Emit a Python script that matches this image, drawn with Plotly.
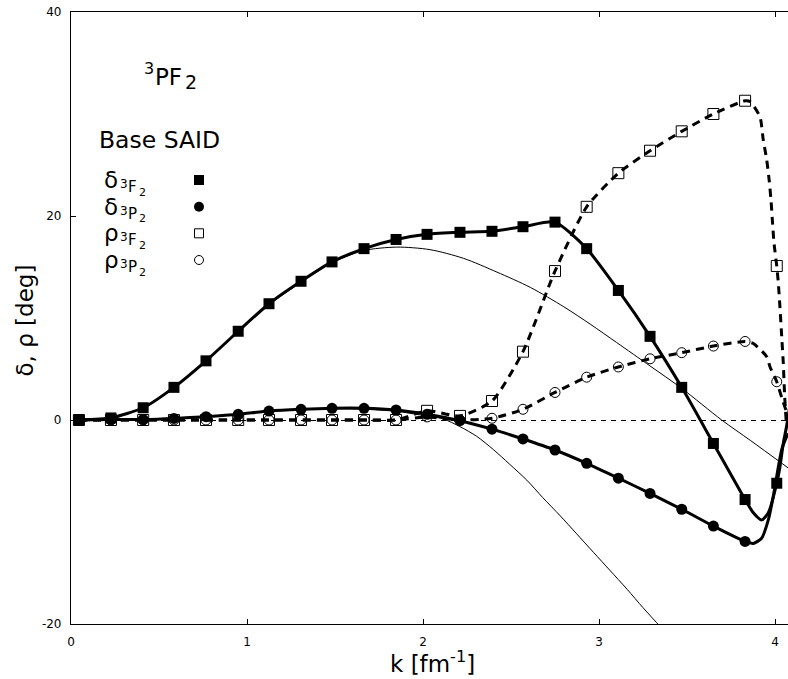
import plotly.graph_objects as go

# ---------------- data ----------------
k_marks = [0.045, 0.227, 0.41, 0.585, 0.767, 0.95, 1.125, 1.307, 1.483, 1.665, 1.847,
           2.023, 2.21, 2.392, 2.568, 2.75, 2.93, 3.11, 3.29, 3.47, 3.65, 3.83, 4.01]

delta_3F2 = [0.0, 0.2, 1.2, 3.2, 5.8, 8.7, 11.4, 13.6, 15.5, 16.8, 17.7,
             18.2, 18.4, 18.5, 18.95, 19.4, 16.8, 12.7, 8.2, 3.2, -2.3, -7.8, -6.2]
delta_3P2 = [0.0, 0.05, 0.05, 0.15, 0.33, 0.56, 0.88, 1.05, 1.15, 1.15, 0.98,
             0.56, -0.07, -0.9, -1.86, -2.94, -4.25, -5.7, -7.2, -8.75, -10.4, -11.9]
rho_3F2 = [0.0, 0.0, 0.0, 0.0, 0.0, 0.0, 0.0, 0.0, 0.0, 0.0, 0.0,
           0.9, 0.4, 1.86, 6.7, 14.6, 20.9, 24.2, 26.4, 28.3, 30.0, 31.3, 15.1]
rho_3P2 = [0.0, 0.0, 0.0, 0.0, 0.0, 0.0, 0.0, 0.0, 0.0, 0.0, 0.0,
           0.3, 0.0, 0.17, 1.05, 2.7, 4.2, 5.2, 6.0, 6.6, 7.25, 7.7, 3.75]

# curve tails beyond the last regular marker
tail_k_d3F2 = [3.877, 3.924, 3.962, 4.01, 4.028, 4.047, 4.066, 4.085]
tail_v_d3F2 = [-9.1, -9.8, -9.1, -6.2, -4.6, -2.3, -0.6, 1.5]
tail_k_d3P2 = [3.877, 3.924, 3.962, 3.99, 4.019, 4.038, 4.057, 4.075]
tail_v_d3P2 = [-12.1, -11.6, -9.8, -7.5, -4.6, -2.9, -2.0, -1.3]
tail_k_r3F2 = [3.86, 3.915, 3.933, 3.953, 3.967, 3.977, 3.985, 3.994, 4.01,
               4.019, 4.028, 4.038, 4.047, 4.055, 4.065]
tail_v_r3F2 = [31.2, 29.7, 27.5, 25.5, 23.5, 21.6, 19.6, 17.4, 15.1,
               13.4, 11.1, 8.2, 5.6, 2.3, -0.5]
tail_k_r3P2 = [3.877, 3.953, 3.972, 4.01, 4.04, 4.075]
tail_v_r3P2 = [7.5, 6.2, 5.2, 3.75, 2.1, 0.3]

# thin reference curves
thin1_k = [0.045, 0.227, 0.41, 0.585, 0.767, 0.95, 1.125, 1.307, 1.47, 1.661, 1.85,
           2.04, 2.23, 2.42, 2.61, 2.80, 2.95, 3.10, 3.29, 3.47, 3.697, 3.86, 4.075]
thin1_v = [0.0, 0.2, 1.2, 3.2, 5.8, 8.7, 11.3, 13.5, 15.3, 16.6, 16.95,
           16.7, 15.85, 14.5, 13.0, 11.1, 9.4, 7.6, 5.3, 3.1, 0.0, -2.0, -4.7]
thin2_k = [0.045, 0.41, 0.767, 0.95, 1.125, 1.307, 1.483, 1.665, 1.847, 2.0, 2.115,
           2.21, 2.305, 2.40, 2.49, 2.59, 2.68, 2.78, 2.87, 2.97, 3.06, 3.16, 3.25,
           3.35, 3.45]
thin2_v = [0.0, 0.02, 0.3, 0.55, 0.85, 1.0, 1.1, 1.05, 0.85, 0.45, 0.1,
           -0.65, -1.6, -2.9, -4.3, -5.9, -7.6, -9.4, -11.1, -13.0, -14.7, -16.6, -18.4,
           -20.3, -22.3]

x_ticks = [0, 1, 2, 3, 4]
y_ticks = [-20, 0, 20, 40]

# ---------------- layout geometry ----------------
W, H = 788, 679
L, R, T, B = 71, 0, 12, 55
PW, PH = W - L - R, H - T - B
PX_PER_K = 176.0
X_MAX = PW / PX_PER_K
FONT = "DejaVu Sans"


def px(xp):
    return (xp - L) / PW


def py(yp):
    return (H - B - yp) / PH


fig = go.Figure()

# thin curves
for kk, vv in [(thin1_k, thin1_v), (thin2_k, thin2_v)]:
    fig.add_trace(go.Scatter(x=kk, y=vv, mode="lines",
                             line=dict(color="black", width=1, shape="spline", smoothing=0.8),
                             hoverinfo="skip", showlegend=False))

# dashed rho curves
for mk, tk, tv in [(rho_3F2, tail_k_r3F2, tail_v_r3F2), (rho_3P2, tail_k_r3P2, tail_v_r3P2)]:
    fig.add_trace(go.Scatter(x=k_marks[:22] + tk, y=mk[:22] + tv, mode="lines",
                             line=dict(color="black", width=3, dash="8px,6px",
                                       shape="spline", smoothing=0.6),
                             hoverinfo="skip", showlegend=False))

# solid delta curves
for mk, tk, tv in [(delta_3F2, tail_k_d3F2, tail_v_d3F2), (delta_3P2, tail_k_d3P2, tail_v_d3P2)]:
    fig.add_trace(go.Scatter(x=k_marks[:22] + tk, y=mk[:22] + tv, mode="lines",
                             line=dict(color="black", width=3, shape="spline", smoothing=0.6),
                             hoverinfo="skip", showlegend=False))

# markers
fig.add_trace(go.Scatter(x=k_marks, y=rho_3P2, mode="markers",
                         marker=dict(symbol="circle-open", size=10, color="black",
                                     line=dict(width=1, color="black")),
                         showlegend=False))
fig.add_trace(go.Scatter(x=k_marks, y=rho_3F2, mode="markers",
                         marker=dict(symbol="square-open", size=11, color="black",
                                     line=dict(width=1, color="black")),
                         showlegend=False))
fig.add_trace(go.Scatter(x=k_marks[:len(delta_3P2)], y=delta_3P2, mode="markers",
                         marker=dict(symbol="circle", size=11, color="black"),
                         showlegend=False))
fig.add_trace(go.Scatter(x=k_marks, y=delta_3F2, mode="markers",
                         marker=dict(symbol="square", size=11, color="black"),
                         showlegend=False))

shapes = []
# zero dashed reference line (aligned to the pixel row of k-axis value 0)
shapes.append(dict(type="line", xref="paper", x0=0, x1=1, yref="paper",
                   y0=py(420.5), y1=py(420.5),
                   line=dict(color="black", width=1, dash="5px,5px"), layer="below"))

# legend keys (drawn as shapes in paper space)
key_x = 199
key_rows = [180, 206.7, 233.3, 260]
s = 5
shapes.append(dict(type="rect", xref="paper", yref="paper",
                   x0=px(key_x - s), x1=px(key_x + s), y0=py(key_rows[0] + s), y1=py(key_rows[0] - s),
                   fillcolor="black", line=dict(width=0)))
shapes.append(dict(type="circle", xref="paper", yref="paper",
                   x0=px(key_x - s), x1=px(key_x + s), y0=py(key_rows[1] + s), y1=py(key_rows[1] - s),
                   fillcolor="black", line=dict(width=0)))
shapes.append(dict(type="rect", xref="paper", yref="paper",
                   x0=px(key_x - 4.5), x1=px(key_x + 4.5), y0=py(key_rows[2] + 4.5), y1=py(key_rows[2] - 4.5),
                   fillcolor="white", line=dict(width=1, color="black")))
shapes.append(dict(type="circle", xref="paper", yref="paper",
                   x0=px(key_x - 4.5), x1=px(key_x + 4.5), y0=py(key_rows[3] + 4.5), y1=py(key_rows[3] - 4.5),
                   fillcolor="white", line=dict(width=1, color="black")))

annotations = []


def add_text(text, x_pos, baseline, size, anchor="left"):
    yc = baseline - 0.346 * size
    annotations.append(dict(text=text, xref="paper", yref="paper", x=px(x_pos), y=py(yc),
                            xanchor=anchor, yanchor="middle", showarrow=False,
                            borderpad=0, borderwidth=0,
                            font=dict(family=FONT, size=size, color="black")))


# panel title  3PF2
add_text("3", 144, 74, 16)
add_text("PF", 155, 85, 23)
add_text("2", 185, 89, 19)

add_text("Base SAID", 99, 148, 23.5)

legend_main = ["δ", "δ", "ρ", "ρ"]
legend_wave = ["F", "P", "F", "P"]
for r in range(4):
    dy = 26.7 * r
    add_text(legend_main[r], 104, 188 + dy, 23)
    add_text("3", 120, 188 + dy, 12)
    add_text(legend_wave[r], 128, 192 + dy, 15)
    add_text("2", 139, 196 + dy, 11)

# x-axis title  k [fm^-1]
add_text("k [fm<sup>-1</sup>]", 432, 670, 23, anchor="center")

# y-axis title
annotations.append(dict(text="δ, ρ [deg]", xref="paper", yref="paper", x=px(24), y=py(320.5),
                        xanchor="center", yanchor="middle", textangle=-90, showarrow=False,
                        borderpad=0, borderwidth=0,
                        font=dict(family=FONT, size=23, color="black")))

fig.update_layout(
    width=W, height=H,
    margin=dict(l=L, r=R, t=T, b=B, pad=0),
    paper_bgcolor="white", plot_bgcolor="white",
    font=dict(family=FONT, size=12, color="black"),
    showlegend=False,
    shapes=shapes,
    annotations=annotations,
    xaxis=dict(range=[0, X_MAX], tickvals=x_ticks, ticktext=[str(v) for v in x_ticks],
               ticks="inside", ticklen=5, tickwidth=1, tickcolor="black",
               showline=True, linecolor="black", linewidth=1.2, mirror="ticks",
               showgrid=False, zeroline=False, tickfont=dict(size=12, family=FONT),
               ticklabelstandoff=6),
    yaxis=dict(range=[-20, 40], tickvals=y_ticks, ticktext=[str(v) for v in y_ticks],
               ticks="inside", ticklen=5, tickwidth=1, tickcolor="black",
               showline=True, linecolor="black", linewidth=1.2, mirror=False,
               showgrid=False, zeroline=False, tickfont=dict(size=12, family=FONT),
               ticklabelstandoff=6),
)

fig.write_html("out.html")
